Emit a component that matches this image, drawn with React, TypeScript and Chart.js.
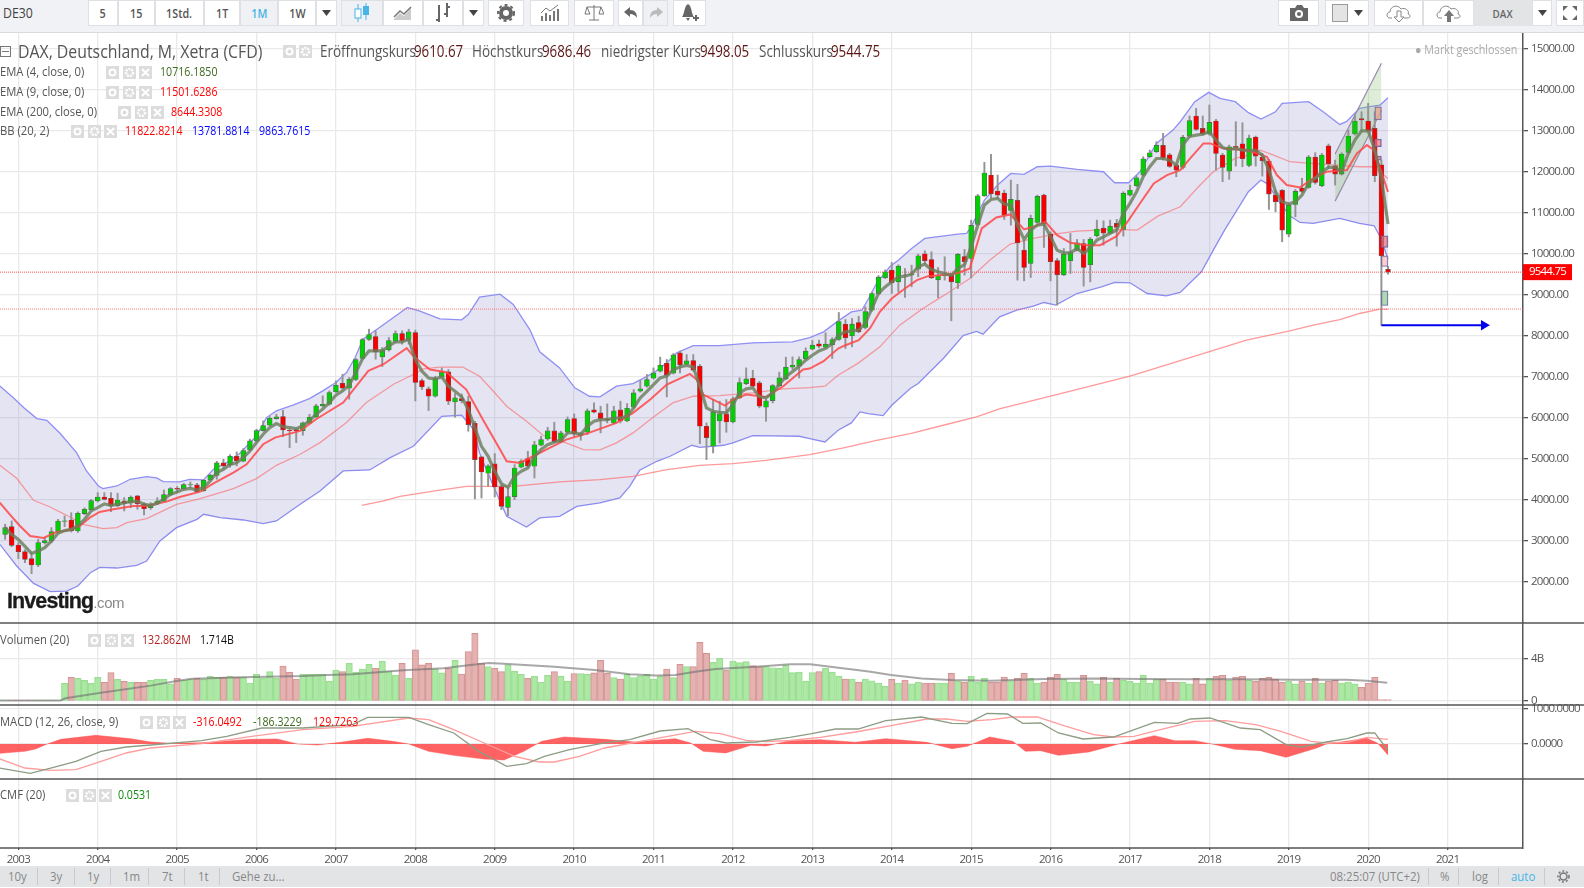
import React, { useEffect, useRef } from "react";
import { Chart, registerables } from "chart.js";
Chart.register(...registerables);

const FONT = '"Open Sans",sans-serif';

// Month index: 0 = Jan 2003, so 12 = Jan 2004 and so on. The first candle is month -2.
const firstMonth = -2;
const xMin = -2.77;
const xMax = 227.4;
const yearTicks = [0, 12, 24, 36, 48, 60, 72, 84, 96, 108, 120, 132, 144, 156, 168, 180, 192, 204, 216];
const yearLabels = ["2003", "2004", "2005", "2006", "2007", "2008", "2009", "2010", "2011", "2012", "2013", "2014", "2015", "2016", "2017", "2018", "2019", "2020", "2021"];
const priceTicks = [2000, 3000, 4000, 5000, 6000, 7000, 8000, 9000, 10000, 11000, 12000, 13000, 14000, 15000];

const opens = [
  3154, 3341, 2894, 2732, 2561, 2406, 2951, 2992, 3220, 3470,
  3504, 3236, 3660, 3756, 3967, 4065, 4032, 3854, 3967, 3919,
  4090, 3894, 3805, 3894, 3967, 4114, 4276, 4268, 4358, 4358,
  4220, 4480, 4593, 4894, 4854, 5057, 4935, 5211, 5431, 5683,
  5813, 5976, 6024, 5691, 5707, 5683, 5862, 6016, 6285, 6325,
  6626, 6837, 6715, 6927, 7439, 7902, 7976, 7480, 7650, 7854,
  8049, 7878, 8073, 6902, 6699, 6520, 6992, 7114, 6382, 6463,
  6390, 5862, 5041, 4642, 4870, 4317, 3813, 4073, 4789, 5000,
  4813, 5325, 5480, 5675, 5406, 5642, 5976, 5569, 5642, 6187,
  6114, 5959, 5870, 6187, 5919, 6252, 6642, 6764, 6959, 7130,
  7325, 7081, 7577, 7301, 7390, 7252, 5789, 5301, 5919, 6089,
  5894, 6480, 6829, 6959, 6846, 6252, 6415, 6780, 6943, 7228,
  7252, 7431, 7667, 7797, 7715, 7780, 7902, 8276, 7992, 8317,
  8195, 8618, 9016, 9407, 9593, 9309, 9480, 9480, 9618, 9992,
  9854, 9358, 9460, 9470, 9285, 9927, 9878, 10707, 11406, 11911,
  11520, 11472, 11049, 11293, 10081, 9756, 10756, 11423, 10480, 9829,
  9480, 9821, 10081, 10244, 9724, 10431, 10618, 10496, 10732, 10585,
  11423, 11650, 11910, 12358, 12480, 12634, 12407, 12154, 12098, 12862,
  13350, 13049, 12911, 13228, 12398, 12008, 12610, 12675, 12146, 12837,
  12350, 12252, 11423, 11537, 10472, 11195, 11593, 11610, 12350, 11650,
  12626, 12138, 11935, 12463, 12911, 13285, 13228, 13049, 12163, 9610.67,
];
const highs = [
  3400, 3480, 2950, 2780, 2724, 3032, 3070, 3317, 3520, 3600,
  3683, 3700, 3800, 4000, 4170, 4170, 4170, 4155, 4050, 4090,
  4105, 3927, 3927, 4049, 4236, 4293, 4317, 4398, 4431, 4398,
  4496, 4618, 4935, 4984, 5097, 5163, 5244, 5472, 5715, 5919,
  6024, 6081, 6179, 5732, 5732, 5894, 6081, 6325, 6528, 6650,
  6894, 7057, 6976, 7440, 7927, 8154, 8114, 7707, 7951, 8114,
  8114, 8154, 8130, 6943, 6748, 7008, 7211, 7171, 6585, 6577,
  6520, 5910, 5057, 4854, 5122, 4366, 4285, 4854, 4976, 5179,
  5423, 5545, 5764, 5886, 5667, 6016, 6089, 5642, 6211, 6358,
  6276, 6333, 6276, 6398, 6341, 6683, 6911, 7049, 7211, 7472,
  7415, 7561, 7618, 7537, 7537, 7293, 5870, 6439, 6398, 6439,
  6504, 6967, 7211, 7154, 6886, 6450, 6805, 7106, 7472, 7480,
  7480, 7700, 7878, 7886, 8065, 7950, 8561, 8390, 8415, 8470,
  8700, 9060, 9460, 9600, 9780, 9724, 9634, 9715, 9984, 10065,
  10040, 9658, 9920, 9512, 10000, 10098, 10813, 11439, 12220, 12415,
  11911, 11545, 11789, 11683, 10285, 10935, 11423, 11447, 10528, 9878,
  10122, 10488, 10341, 10341, 10390, 10813, 10797, 10813, 10829, 11504,
  11667, 11894, 12358, 12520, 12723, 12927, 12439, 12195, 12880, 13350,
  13537, 13350, 13618, 13268, 12439, 12642, 13211, 13187, 12886, 12862,
  12439, 12293, 11545, 11561, 11220, 11561, 11829, 12390, 12455, 12439,
  12667, 12276, 12455, 13008, 13374, 13455, 13658, 13455, 12276, 9686.46,
];
const lows = [
  3033, 2854, 2561, 2463, 2195, 2366, 2920, 2950, 3195, 3340,
  3211, 3200, 3630, 3740, 3943, 3990, 3707, 3830, 3724, 3805,
  3764, 3626, 3764, 3880, 3950, 4100, 4170, 4260, 4293, 4170,
  4200, 4470, 4496, 4756, 4789, 4821, 4920, 5190, 5400, 5670,
  5800, 5960, 5537, 5268, 5390, 5569, 5850, 6000, 6260, 6300,
  6610, 6690, 6447, 6900, 7420, 7880, 7423, 7244, 7620, 7830,
  7789, 7789, 6406, 6683, 6171, 6500, 6980, 6317, 6008, 6358,
  5667, 4016, 4041, 4325, 4065, 3756, 3610, 4000, 4770, 4772,
  4528, 5310, 5450, 5390, 5390, 5620, 5545, 5447, 5585, 6114,
  5626, 5870, 5850, 5870, 5900, 6230, 6620, 6740, 6940, 7110,
  6504, 7060, 7089, 7280, 7130, 5366, 4976, 5138, 5382, 5642,
  5870, 6460, 6800, 6740, 6236, 5911, 6358, 6760, 6920, 7170,
  6967, 7410, 7650, 7700, 7690, 7439, 7880, 7683, 7724, 8065,
  8160, 8590, 9000, 9390, 9024, 9065, 8927, 9187, 9431, 9756,
  9390, 8920, 9350, 8358, 9146, 9470, 9406, 10690, 11390, 11341,
  11341, 10829, 10691, 9350, 9333, 9415, 10730, 10146, 9333, 8740,
  9460, 9512, 10060, 9203, 9309, 10400, 10203, 10480, 10179, 10423,
  11400, 11630, 11890, 12340, 12460, 12276, 12100, 11870, 12060, 12840,
  13000, 12886, 12880, 12033, 11748, 11805, 12130, 12114, 12114, 12130,
  11886, 11073, 11016, 10285, 10407, 10894, 11480, 11590, 11691, 11626,
  12073, 11667, 11910, 12439, 12886, 12967, 12959, 11748, 8252, 9498.05,
];
const closes = [
  3317, 2886, 2732, 2545, 2406, 2951, 3000, 3220, 3480, 3484,
  3244, 3667, 3764, 3976, 4065, 4008, 3854, 3992, 3910, 4057,
  3902, 3780, 3894, 3967, 4122, 4268, 4252, 4366, 4366, 4195,
  4472, 4593, 4894, 4821, 5057, 4943, 5195, 5431, 5683, 5805,
  5984, 6016, 5699, 5683, 5675, 5870, 6008, 6285, 6325, 6610,
  6789, 6715, 6935, 7415, 7902, 8024, 7602, 7650, 7878, 8049,
  7862, 8089, 6854, 6748, 6520, 6951, 7106, 6398, 6480, 6415,
  5829, 4976, 4675, 4821, 4309, 3837, 4073, 4772, 4935, 4813,
  5333, 5463, 5675, 5415, 5626, 5951, 5593, 5610, 6163, 6130,
  5967, 5951, 6163, 5919, 6228, 6602, 6699, 6927, 7089, 7276,
  7033, 7528, 7285, 7382, 7154, 5789, 5512, 6130, 6089, 5894,
  6455, 6854, 6943, 6764, 6276, 6407, 6780, 6967, 7228, 7276,
  7415, 7618, 7764, 7740, 7789, 7902, 8341, 7943, 8276, 8089,
  8585, 9024, 9423, 9553, 9285, 9691, 9470, 9500, 9943, 9821,
  9407, 9455, 9475, 9309, 9976, 9797, 10683, 11406, 11959, 11455,
  11423, 10935, 11317, 10260, 9659, 10854, 11390, 10724, 9797, 9480,
  9976, 10024, 10260, 9659, 10350, 10594, 10496, 10659, 10634, 11471,
  11545, 11845, 12309, 12455, 12634, 12325, 12122, 12032, 12829, 13236,
  13024, 12911, 13195, 12439, 12098, 12602, 12585, 12309, 12813, 12374,
  12260, 11447, 11260, 10569, 11171, 11512, 11512, 12350, 11732, 12398,
  12187, 11935, 12423, 12862, 13228, 13252, 12984, 11894, 9943, 9544.75,
];
// Volume in billions, one per candle
const volumes = [
  0.05, 0.05, 0.05, 0.05, 0.05, 0.05, 0.05, 0.05, 0.05, 1.66,
  2.22, 2.12, 1.94, 1.66, 2.22, 1.75, 2.66, 2.03, 1.84, 1.75,
  1.75, 1.75, 1.94, 2.03, 2.03, 1.6, 2.12, 1.94, 2.03, 2.12,
  2.03, 2.31, 2.22, 2.22, 2.31, 2.22, 2.22, 1.69, 2.5, 2.12,
  2.75, 2.12, 3.28, 2.7, 2.06, 2.5, 2.5, 2.5, 2.5, 1.87,
  2.9, 2.75, 3.53, 2.7, 3, 3.44, 3.06, 3.75, 2.8, 2.44,
  3.53, 2.12, 4.8, 3.38, 3.53, 3, 2.63, 3.06, 3.81, 2.53,
  4.63, 6.34, 3.53, 3.22, 3.06, 2.75, 3.38, 2.81, 2.5, 2.12,
  2.34, 1.78, 2.4, 2.75, 2.34, 1.87, 2.56, 2.56, 2.5, 2.63,
  3.81, 2.6, 2.19, 2.06, 2.5, 2.19, 2.34, 2.5, 2.06, 2.34,
  3, 2.19, 3.44, 3.22, 3.22, 5.5, 4.47, 3.63, 4, 2.9,
  3.75, 3.6, 3.69, 3.31, 3.22, 3.22, 3.12, 3.06, 3.38, 2.66,
  2.7, 1.87, 2.66, 2.75, 3.06, 2.7, 2.34, 2.06, 2.06, 1.78,
  2.06, 1.9, 1.69, 1.38, 2.03, 1.69, 1.97, 1.6, 1.78, 1.69,
  1.69, 1.69, 1.69, 2.59, 1.87, 1.78, 2.31, 1.75, 2.12, 1.75,
  1.75, 2.25, 1.9, 2.12, 2.59, 2.12, 1.69, 1.78, 2.22, 2.5,
  2.03, 1.78, 1.78, 2.4, 1.87, 1.6, 2.22, 1.78, 2.12, 1.94,
  1.84, 1.69, 2.4, 1.69, 2.03, 2.03, 1.78, 1.78, 1.78, 1.6,
  2.12, 1.6, 2.12, 2.31, 2.4, 1.97, 2.25, 2.31, 1.97, 1.84,
  2.12, 2.22, 2.03, 1.78, 1.87, 1.6, 1.87, 1.69, 2.12, 1.69,
  1.87, 1.94, 1.69, 1.78, 1.6, 1.28, 1.69, 2.22, 0.13, 0.13,
];
// EMA(4), one per candle
const ema4 = [
  3320, 3150, 3030, 2860, 2690, 2750, 2830, 2990, 3180, 3245,
  3275, 3360, 3520, 3725, 3805, 3895, 3860, 3885, 3925, 3950,
  3965, 3885, 3860, 3910, 4010, 4130, 4185, 4250, 4275, 4235,
  4295, 4455, 4660, 4740, 4860, 4900, 5025, 5185, 5390, 5595,
  5755, 5855, 5780, 5755, 5730, 5800, 5920, 6080, 6205, 6365,
  6545, 6650, 6790, 7100, 7425, 7625, 7625, 7625, 7750, 7845,
  7845, 7910, 7415, 7130, 6965, 6945, 6990, 6765, 6640, 6505,
  6195, 5750, 5300, 5055, 4690, 4390, 4300, 4570, 4690, 4770,
  5055, 5220, 5340, 5400, 5445, 5625, 5640, 5585, 5790, 5910,
  5950, 5950, 5990, 5990, 6030, 6235, 6480, 6640, 6805, 6965,
  7010, 7170, 7235, 7270, 7235, 6765, 6235, 6155, 6130, 6115,
  6315, 6600, 6700, 6725, 6505, 6480, 6600, 6805, 7000, 7120,
  7250, 7400, 7520, 7625, 7685, 7805, 8010, 8090, 8115, 8130,
  8295, 8660, 9025, 9185, 9310, 9430, 9445, 9495, 9675, 9740,
  9610, 9555, 9510, 9465, 9635, 9730, 10165, 10690, 11180, 11315,
  11340, 11205, 11180, 10690, 10340, 10570, 10690, 10715, 10405, 10080,
  10015, 10015, 10120, 10000, 10145, 10325, 10405, 10490, 10570, 10975,
  11220, 11505, 11870, 12115, 12315, 12315, 12275, 12155, 12650, 12850,
  12885, 12910, 12965, 12765, 12585, 12535, 12560, 12520, 12505, 12520,
  12400, 12030, 11505, 11260, 11205, 11260, 11425, 11705, 11830, 11990,
  12100, 12100, 11990, 12440, 12765, 12990, 12990, 12520, 11830, 10716,
];

const bbUpperX = [-2.8, -0.8, 0.8, 2.8, 4.3, 6.3, 8.8, 10.3, 12.1, 12.8, 14.9, 16.9, 19.4, 20.9, 21.9, 24.4, 25.9, 28, 29.5, 31.5, 33.5, 36, 37.5, 39, 41.5, 44, 46, 48, 49.6, 50.9, 52.1, 57.7, 58.8, 60.7, 63.7, 67, 68, 69.7, 72.8, 74.8, 77.3, 78.8, 81.8, 84.1, 86.3, 87.9, 90.4, 92.9, 96, 98, 99.5, 102, 106, 111, 117, 119.6, 121.7, 123.7, 125.9, 127.5, 128.5, 129.7, 131.7, 133, 135, 137, 142, 143.3, 144, 146, 148, 150, 152, 154, 156, 160, 164, 165.7, 167.8, 169.5, 172, 174.5, 175.6, 177.8, 179.9, 181.6, 183.9, 185.9, 187.8, 190, 191, 195, 197.2, 199.7, 200.7, 202.7, 204.2, 205.8, 207];
const bbUpperY = [6772, 6488, 6244, 5976, 5935, 5618, 5146, 4699, 4333, 4268, 4333, 4496, 4561, 4528, 4439, 4431, 4496, 4480, 4740, 4902, 5130, 5553, 6000, 6163, 6301, 6463, 6650, 6854, 7098, 7463, 7910, 8553, 8683, 8593, 8406, 8382, 8512, 8935, 9008, 8756, 8146, 7602, 7211, 6724, 6520, 6504, 6764, 6829, 7089, 7333, 7577, 7756, 7756, 7821, 7845, 7951, 8089, 8333, 8577, 8618, 8902, 9268, 9675, 9837, 10122, 10366, 10472, 10488, 10650, 11301, 11667, 11951, 11927, 12114, 12130, 12049, 11992, 11724, 11724, 11992, 12683, 13008, 13211, 13699, 13927, 13780, 13699, 13431, 13276, 13455, 13659, 13699, 13455, 13146, 13211, 13537, 13577, 13618, 13797];
const bbLowerX = [-2.8, -0.25, 2.3, 4.8, 7.3, 9, 10.9, 12.3, 14.9, 17.9, 19.4, 21.4, 23.9, 27, 28, 30.5, 34, 37, 39, 42.6, 45.6, 49.1, 53.1, 56.2, 59.7, 64, 67, 68.8, 69.7, 71.8, 73.8, 76.8, 78.8, 81.8, 84.4, 87.9, 90.9, 92.4, 93.9, 96.5, 98.5, 101.8, 103, 106.6, 108, 111, 118, 119.6, 121.9, 123.9, 125.9, 127.2, 128.4, 130.7, 132, 134.8, 136, 139.8, 142.8, 144.8, 145.8, 148.3, 150.9, 153.4, 155, 156.8, 160, 163.7, 165.7, 168, 170.6, 173.5, 175.6, 178.8, 180.6, 182.3, 185.9, 187.8, 188.8, 190.7, 192.2, 193.7, 195.7, 199.7, 202.7, 204.9, 205.8, 207];
const bbLowerY = [2911, 2382, 1959, 1756, 1772, 1894, 2220, 2350, 2333, 2398, 2504, 2992, 3317, 3520, 3642, 3561, 3504, 3415, 3480, 3886, 4211, 4699, 4723, 5024, 5301, 6032, 6057, 5707, 5138, 4325, 3593, 3333, 3553, 3593, 3837, 3919, 4041, 4325, 4715, 4935, 5057, 5325, 5276, 5325, 5382, 5561, 5545, 5488, 5406, 5691, 5870, 6138, 6098, 6049, 6301, 6707, 6829, 7439, 8000, 8098, 8033, 8455, 8618, 8715, 8805, 8740, 9024, 9187, 9293, 9285, 9024, 8967, 9049, 9553, 10081, 10569, 11504, 11789, 11691, 11219, 10911, 10756, 10732, 10854, 10732, 10675, 10406, 9864];
const bbMidX = [-2.8, -0.25, 2.3, 4.8, 7.3, 9.8, 12.8, 14.9, 16.4, 19.4, 23.9, 27.5, 32.5, 36, 39, 42.6, 45.6, 49.6, 52.6, 56.7, 59.7, 61.2, 63.7, 67.2, 69.7, 71.8, 73.8, 76.8, 79.3, 82.8, 85.4, 87.9, 90.4, 92.9, 96, 98.9, 102, 106, 111, 115.6, 119.6, 121.9, 123.9, 127, 130.2, 133.2, 136.7, 139.7, 143.8, 146.8, 149.9, 153.4, 157.4, 160, 165.6, 169.1, 172.2, 175.6, 178.6, 180.6, 183.9, 185.9, 187.7, 189.7, 192.2, 194.8, 202.7, 204.7, 205.8, 207];
const bbMidY = [4837, 4520, 3984, 3821, 3618, 3398, 3293, 3317, 3439, 3537, 3886, 4024, 4268, 4512, 4837, 5106, 5390, 5878, 6366, 6813, 7049, 7187, 7228, 7228, 7008, 6642, 6276, 5911, 5569, 5382, 5220, 5211, 5382, 5626, 6016, 6358, 6520, 6537, 6602, 6699, 6732, 6764, 7032, 7333, 7724, 8252, 8659, 8959, 9390, 9837, 10228, 10366, 10488, 10545, 10585, 10569, 10911, 11138, 11667, 11992, 12317, 12398, 12520, 12398, 12236, 12203, 12114, 12114, 11992, 11822];
const ema9X = [-2.8, -1.3, 0.25, 1.8, 3.8, 5.8, 7.8, 9.3, 10.8, 12.3, 14.4, 17.4, 19.4, 22.4, 24.4, 27.5, 29.5, 32.5, 34.5, 37, 38.8, 42.6, 45, 49.1, 51.1, 52.9, 55.2, 58.7, 59.7, 62.2, 64.7, 67.7, 70.2, 72.8, 73.8, 75.8, 77.8, 80.3, 82.8, 85.9, 90.4, 92.9, 95.5, 98, 101.5, 102.5, 103.5, 106.8, 108, 110, 113, 115.6, 118.6, 119.6, 121.7, 123.9, 125, 127, 128.7, 130.2, 132, 134, 135.8, 137.5, 141.8, 143.8, 145.6, 147.8, 149.9, 152, 153.4, 155.2, 157, 159, 161.4, 163.5, 166, 167.8, 169.5, 171.6, 173.6, 175.6, 177.1, 179.1, 180.1, 182.1, 185.7, 188.7, 190.2, 191.7, 193.7, 195.7, 197.7, 200.8, 202.3, 203.8, 204.9, 205.9, 207];
const ema9Y = [3927, 3642, 3358, 3114, 3065, 3211, 3260, 3358, 3561, 3699, 3764, 3846, 3846, 3951, 4065, 4195, 4398, 4659, 4862, 5350, 5512, 5675, 5959, 6366, 6772, 7138, 7301, 7691, 7496, 7171, 7106, 6683, 5951, 5220, 4935, 4894, 5057, 5260, 5463, 5610, 5870, 6114, 6439, 6805, 7065, 6927, 6561, 6293, 6439, 6561, 6504, 6764, 7171, 7195, 7374, 7683, 7764, 7886, 8171, 8577, 8902, 9146, 9350, 9447, 9512, 9634, 10610, 10878, 10951, 10585, 10650, 10772, 10447, 10260, 10203, 10203, 10423, 10813, 11219, 11707, 11911, 12032, 12317, 12683, 12683, 12561, 12520, 12358, 11911, 11667, 11610, 11829, 11992, 12032, 12439, 12642, 12520, 12032, 11501];
const ema200X = [51.9, 55.2, 57.7, 63.2, 67.7, 74.8, 81.8, 87.9, 92.9, 98, 103, 108, 113, 119.6, 124.7, 129.7, 134.8, 139.8, 144.8, 148.4, 156, 168, 180.5, 185.6, 192, 195.7, 199.7, 202.7, 205.8, 207];
const ema200Y = [3862, 3967, 4081, 4220, 4325, 4325, 4431, 4488, 4569, 4732, 4837, 4878, 4959, 5098, 5260, 5447, 5610, 5813, 6016, 6220, 6520, 7012, 7630, 7886, 8106, 8252, 8390, 8537, 8642, 8644];

const volMaX = [-2.8, 6.4, 7.1, 12.5, 20, 23.9, 26.2, 33.8, 43, 46.7, 50.5, 58.2, 64.2, 68, 71.1, 73.4, 81, 87.1, 92.4, 96.3, 99.3, 102.3, 105.4, 111.5, 116.6, 119.7, 122.7, 125.8, 128.8, 131.9, 136.5, 141, 147, 155, 162.5, 170, 177.5, 185, 193, 200.6, 203.8, 206.9];
const volMaY = [0.05, 0.05, 0.25, 0.78, 1.44, 1.87, 2.09, 2.22, 2.34, 2.44, 2.5, 2.88, 3.06, 3.34, 3.56, 3.5, 3.22, 2.9, 2.5, 2.38, 2.44, 2.75, 3, 3.22, 3.44, 3.44, 3.22, 2.97, 2.75, 2.44, 2.12, 1.97, 1.9, 2.06, 2.12, 2.06, 2.03, 2.03, 2, 2, 1.9, 1.71];

const macdHistX = [-2.8, 1, 2.6, 4.1, 6.4, 11.7, 17, 20, 23.1, 27.7, 35.3, 39.1, 42.2, 45.2, 49, 52.8, 56.6, 59, 62, 65.8, 70.4, 73.4, 76.4, 79.1, 82.5, 88.6, 93.2, 99.3, 101.6, 103.5, 106.9, 110.7, 113, 116.6, 121.2, 126.5, 131.1, 137.3, 141.1, 143.4, 146.8, 150.3, 152.2, 154.5, 157.2, 161.8, 166.3, 171.7, 174.8, 177.8, 180.9, 183.9, 187.7, 191.6, 196.2, 197.7, 203.8, 205.4, 207];
const macdHistY = [-267, -209, -143, -19, 133, 248, 152, 57, 19, 38, 133, 143, 0, -29, 57, 162, 76, 0, -209, -324, -428, -457, -209, 76, 200, 133, 57, 152, 29, -209, -257, -38, -57, 95, 124, 48, 152, 48, -133, -67, 200, 76, -209, -190, -324, -228, 0, 238, 95, 95, -19, -152, -190, -381, -114, 0, 162, 29, -316];
const macdLineX = [-2.8, 1.8, 4.9, 8.7, 12.5, 16.3, 20, 27.7, 31.5, 36.8, 43, 50.5, 52.8, 59, 62, 65.8, 69.6, 73.8, 76.8, 79.5, 83.3, 88.6, 92.4, 97, 101.2, 104.6, 107, 111.5, 116.6, 119.7, 123.5, 126.9, 131.1, 136.5, 141.1, 143.4, 146.4, 149.5, 151.8, 154.5, 157.2, 160.9, 165.5, 171.7, 175.2, 177.1, 180.1, 184.7, 187.7, 191.6, 193.9, 197.7, 200.8, 203.8, 205, 207];
const macdLineY = [-686, -838, -686, -495, -210, -86, -29, 95, 219, 457, 457, 552, 762, 762, 552, 314, -210, -638, -562, -352, -162, 29, 124, 371, 438, 124, 29, 57, 190, 286, 428, 428, 667, 771, 590, 581, 876, 857, 590, 600, 314, 143, 200, 619, 590, 714, 743, 457, 410, -19, -86, 57, 152, 314, 320, -186];
const macdSignalX = [-2.8, 1, 4.9, 8.7, 12.5, 16.3, 20, 27.7, 35.3, 43, 50.5, 59, 62, 65.8, 70.4, 75, 78.7, 81, 84.8, 88.6, 96.3, 102.3, 106.1, 110, 113, 116.6, 121.2, 126.5, 131.9, 137.3, 140.3, 143.4, 147.1, 150.3, 154, 158, 162.5, 165.5, 168.6, 173.2, 177.8, 182.4, 187, 190.8, 195.4, 197.7, 200.8, 203.8, 207];
const macdSignalY = [-428, -686, -752, -733, -495, -257, -114, 10, 219, 410, 505, 743, 695, 410, 29, -352, -514, -514, -352, -114, 152, 362, 295, 105, 67, 100, 190, 343, 524, 714, 714, 648, 695, 771, 771, 524, 267, 200, 219, 438, 648, 667, 552, 362, 76, 29, 48, 190, 130];

const lastClose = 9544.75;
const ema200Last = 8644.33;
const channelTopX = [199, 206];
const channelTopY = [12423, 14634];
const channelBottomY = [11276, 13487];
const arrowX = [206, 221.5];
const arrowY = [8252, 8252];
const zoneX = [205.5, 205.5, 205.5, 206.5, 206.5, 206.5];
const zoneLow = [13252, 12602, 12276, 10146, 9683, 8732];
const zoneHigh = [13577, 12789, 12374, 10431, 9943, 9089];
const zoneFills = ["rgba(235,165,140,0.75)", "rgba(255,110,120,0.6)", "rgba(255,110,120,0.6)", "rgba(235,110,115,0.65)", "rgba(250,195,195,0.8)", "rgba(165,210,165,0.85)"];

const pts = (xs: number[], ys: number[]) => xs.map((x, i) => ({ x, y: ys[i] }));
const monthOf = (i: number) => i + firstMonth;
const isUp = (i: number) => closes[i] >= opens[i];

const tickFont = { family: FONT, size: 11.5 };

const overlayPlugin = {
  id: "panelLines",
  beforeDraw(chart: any) {
    chart.ctx.letterSpacing = "-0.75px";
  },
  afterDraw(chart: any) {
    const { ctx, scales, width } = chart;
    ctx.save();
    ctx.strokeStyle = "#555";
    ctx.lineWidth = 1.5;
    for (const id of ["yPrice", "yVol", "yMacd", "yCmf"]) {
      const yy = scales[id].bottom;
      ctx.beginPath();
      ctx.moveTo(0, yy);
      ctx.lineTo(id === "yCmf" ? scales.yCmf.left : width, yy);
      ctx.stroke();
    }
    const py = scales.yPrice.getPixelForValue(lastClose);
    const left = scales.yPrice.left;
    ctx.fillStyle = "#ff0000";
    ctx.fillRect(left, py - 8, 49, 16);
    ctx.fillStyle = "#fff";
    ctx.font = `11.5px ${FONT}`;
    ctx.textBaseline = "middle";
    ctx.textAlign = "center";
    ctx.fillText(lastClose.toFixed(2), left + 24.5, py);
    ctx.restore();
  },
};

function GreyBox({ x, y, kind }: { x: number; y: number; kind: number }) {
  return (
    <svg style={{ position: "absolute", left: x, top: y }} width={13} height={13}>
      <rect width={13} height={13} fill="#dcdcdc" />
      {kind === 0 && <circle cx={6.5} cy={6.5} r={3} fill="none" stroke="#fff" strokeWidth={2} />}
      {kind === 1 && <circle cx={6.5} cy={6.5} r={3.5} fill="none" stroke="#fff" strokeWidth={2.5} strokeDasharray="2 1" />}
      {kind === 2 && <path d="M3 3L10 10M10 3L3 10" stroke="#fff" strokeWidth={2} />}
    </svg>
  );
}

function T({ x, y, size = 13, color = "#555", sx = 0.88, children }: any) {
  return (
    <span style={{ position: "absolute", left: x, top: y, fontSize: size, lineHeight: 1, color, whiteSpace: "nowrap", fontFamily: FONT, transform: `scaleX(${sx})`, transformOrigin: "0 0" }}>
      {children}
    </span>
  );
}

function Btn({ x, w, active, children }: any) {
  return (
    <div style={{ position: "absolute", left: x, top: 0, width: w, height: 26, boxSizing: "border-box", background: active ? "#f0f1f4" : "#fff", border: "1px solid #dfe0e3", display: "flex", alignItems: "center", justifyContent: "center", fontFamily: FONT, fontSize: 12.5, fontWeight: 600, color: "#555" }}>
      {typeof children === "string" ? <span style={{ transform: "scaleX(0.86)" }}>{children}</span> : children}
    </div>
  );
}
const Caret = () => <svg width={9} height={6}><path d="M0 0H9L4.5 6Z" fill="#444" /></svg>;

function LegendRow({ y, label, icons, values }: any) {
  return (
    <>
      <T x={0} y={y - 6.5} size={12.5} color="#555" sx={0.9}>{label}</T>
      {[0, 1, 2].map((k) => <GreyBox key={k} x={icons + k * 16.5} y={y - 6.5} kind={k} />)}
      {values.map((v: any) => <T key={v[0]} x={v[1]} y={y - 6.5} size={12.5} color={v[2]} sx={0.85}>{v[0]}</T>)}
    </>
  );
}

export default function App() {
  const ref = useRef<HTMLCanvasElement>(null);
  useEffect(() => {
    const wickData = opens.map((_, i) => ({ x: monthOf(i), y: [lows[i], highs[i]] }));
    const bodyData = opens.map((o, i) => ({ x: monthOf(i), y: [Math.min(o, closes[i]), Math.max(o, closes[i])] }));
    const volData = volumes.map((v, i) => ({ x: monthOf(i), y: v }));
    const line = (label: string, xs: number[], ys: number[], color: string, width: number, order: number, yAxisID = "yPrice", extra: any = {}) => ({
      type: "line", label, data: pts(xs, ys), borderColor: color, borderWidth: width, pointRadius: 0, tension: 0, order, yAxisID, xAxisID: "x", fill: false, ...extra,
    });
    const months = opens.map((_, i) => monthOf(i));
    const chart = new Chart(ref.current as any, {
      type: "line",
      plugins: [overlayPlugin],
      data: {
        datasets: [
          line("BB oben", bbUpperX, bbUpperY, "#8f8ff5", 1.3, 90, "yPrice", { fill: "+1", backgroundColor: "rgba(122,122,190,0.2)" }),
          line("BB unten", bbLowerX, bbLowerY, "#8f8ff5", 1.3, 91),
          line("EMA 200", ema200X, ema200Y, "rgba(255,110,110,0.7)", 1.3, 80),
          line("BB Mitte", bbMidX, bbMidY, "rgba(255,90,90,0.55)", 1.3, 70),
          line("Kurs", [xMin, xMax], [lastClose, lastClose], "rgba(255,40,40,0.8)", 1, 60, "yPrice", { borderDash: [1, 1] }),
          line("EMA 200 Linie", [xMin, xMax], [ema200Last, ema200Last], "rgba(255,70,70,0.7)", 1, 60, "yPrice", { borderDash: [1, 1] }),
          line("Kanal oben", channelTopX, channelTopY, "#9c86ad", 1.2, 56, "yPrice", { fill: "+1", backgroundColor: "rgba(130,190,110,0.27)" }),
          line("Kanal unten", channelTopX, channelBottomY, "#9c86ad", 1.2, 56),
          {
            type: "bar", label: "Docht", data: wickData, barThickness: 1.3, backgroundColor: "#949494", grouped: false, order: 50, yAxisID: "yPrice", xAxisID: "x",
          },
          {
            type: "bar", label: "Kerze", data: bodyData, barThickness: 4.8, grouped: false, order: 49, yAxisID: "yPrice", xAxisID: "x",
            backgroundColor: opens.map((_, i) => (isUp(i) ? "#00d000" : "#f80000")), borderColor: "#5c5c5c", borderWidth: 0.6, borderSkipped: false,
          },
          {
            type: "bar", label: "Zonen", data: zoneX.map((x, i) => ({ x, y: [zoneLow[i], zoneHigh[i]] })), barThickness: 6.6, grouped: false, order: 30, yAxisID: "yPrice", xAxisID: "x",
            backgroundColor: zoneFills, borderColor: "#6a6aa8", borderWidth: 1, borderSkipped: false,
          },
          line("EMA 9", ema9X, ema9Y, "rgba(255,70,70,0.85)", 2, 12),
          line("EMA 4", months, ema4, "rgba(105,125,90,0.8)", 3.2, 10),
          line("Pfeil", arrowX, arrowY, "#0000ee", 2, 5, "yPrice", { pointRadius: [0, 4], pointStyle: "triangle", pointRotation: 90, pointBackgroundColor: "#0000ee", pointBorderColor: "#0000ee" }),
          {
            type: "bar", label: "Volumen", data: volData, barThickness: 6.4, grouped: false, order: 20, yAxisID: "yVol", xAxisID: "x",
            backgroundColor: opens.map((_, i) => (isUp(i) ? "rgba(160,228,150,0.85)" : "rgba(226,170,170,0.9)")),
            borderColor: opens.map((_, i) => (isUp(i) ? "#9bdc92" : "#d29090")), borderWidth: 0.8, borderSkipped: false,
          },
          line("Volumen MA", volMaX, volMaY, "rgba(110,110,110,0.6)", 2, 10, "yVol"),
          line("MACD Histogramm", macdHistX, macdHistY, "rgba(255,70,70,0.85)", 0.5, 20, "yMacd", { fill: "origin", backgroundColor: "rgba(255,70,70,0.85)" }),
          line("MACD", macdLineX, macdLineY, "#8d9c84", 1.3, 10, "yMacd"),
          line("Signal", macdSignalX, macdSignalY, "#ff9c9c", 1.3, 11, "yMacd"),
        ] as any,
      },
      options: {
        animation: false,
        responsive: false,
        devicePixelRatio: 1,
        layout: { autoPadding: false, padding: { top: 32, bottom: 22, left: 0, right: 0 } },
        plugins: { legend: { display: false }, tooltip: { enabled: false } },
        scales: {
          x: {
            type: "linear", min: xMin, max: xMax, offset: false,
            afterBuildTicks: (s: any) => { s.ticks = yearTicks.map((value) => ({ value })); },
            afterFit: (s: any) => { s.height = 18; s.paddingLeft = 0; s.paddingRight = 0; },
            ticks: { autoSkip: false, maxRotation: 0, color: "#555", font: tickFont, padding: 3, callback: (_: any, i: number) => yearLabels[i] },
            grid: { color: "#e9e9e9", lineWidth: 1.3, tickLength: 2, tickColor: "#555", offset: false },
            border: { display: false },
          },
          yPrice: {
            type: "linear", position: "right", stack: "panels", stackWeight: 591, min: 993, max: 15398,
            afterBuildTicks: (s: any) => { s.ticks = priceTicks.map((value) => ({ value })); },
            afterFit: (s: any) => { s.width = 61; },
            ticks: { color: "#555", font: tickFont, padding: 3, callback: (v: number) => v.toFixed(2) },
            grid: { color: "#e9e9e9", lineWidth: 1.3, tickLength: 5, tickColor: "#555" },
            border: { color: "#555", width: 1.5 },
          },
          yVol: {
            type: "linear", position: "right", stack: "panels", stackWeight: 82, min: -0.375, max: 7.31,
            afterBuildTicks: (s: any) => { s.ticks = [{ value: 0 }, { value: 4 }]; },
            afterFit: (s: any) => { s.width = 61; },
            ticks: { color: "#555", font: tickFont, padding: 3, callback: (v: number) => (v === 0 ? "0" : `${v}B`) },
            grid: { color: "#e9e9e9", lineWidth: 1.3, tickLength: 5, tickColor: "#555" },
            border: { color: "#555", width: 1.5 },
          },
          yMacd: {
            type: "linear", position: "right", stack: "panels", stackWeight: 74, min: -1000, max: 1114,
            afterBuildTicks: (s: any) => { s.ticks = [{ value: 0 }, { value: 1000 }]; },
            afterFit: (s: any) => { s.width = 61; },
            ticks: { color: "#555", font: tickFont, padding: 3, callback: (v: number) => v.toFixed(4) },
            grid: { color: "#e9e9e9", lineWidth: 1.3, tickLength: 5, tickColor: "#555" },
            border: { color: "#555", width: 1.5 },
          },
          yCmf: {
            type: "linear", position: "right", stack: "panels", stackWeight: 69, min: -1, max: 1,
            afterBuildTicks: (s: any) => { s.ticks = []; },
            afterFit: (s: any) => { s.width = 61; },
            ticks: { display: false },
            grid: { display: false },
            border: { color: "#555", width: 1.5 },
          },
        },
      } as any,
    });
    return () => chart.destroy();
  }, []);

  const green = "#3d6b1e";
  return (
    <div style={{ position: "fixed", left: 0, top: 0, width: 1584, height: 888, overflow: "hidden", background: "#fff" }}>
      <canvas ref={ref} width={1584} height={888} style={{ position: "absolute", left: 0, top: 0, width: 1584, height: 888, filter: "blur(0.35px)" }} />

      {/* toolbar */}
      <div style={{ position: "absolute", left: 0, top: 0, width: 1584, height: 33, background: "#f1f2f5", borderBottom: "1.5px solid #d9dadd", boxSizing: "border-box" }} />
      <T x={3} y={6} size={14} color="#444">DE30</T>
      <Btn x={88} w={30}>5</Btn>
      <Btn x={118} w={37}>15</Btn>
      <Btn x={155} w={49}>1Std.</Btn>
      <Btn x={204} w={36}>1T</Btn>
      <Btn x={240} w={38} active><span style={{ color: "#45b4e6", transform: "scaleX(0.86)" }}>1M</span></Btn>
      <Btn x={278} w={38}>1W</Btn>
      <Btn x={316} w={21}><Caret /></Btn>
      <Btn x={341} w={42} active>
        <svg width={18} height={22}><path d="M5 2V20M13 1V18" stroke="#45b4e6" /><rect x={2} y={7} width={6} height={9} fill="#fff" stroke="#45b4e6" /><rect x={10} y={4} width={6} height={9} fill="#45b4e6" /></svg>
      </Btn>
      <Btn x={383} w={40}>
        <svg width={20} height={16}><path d="M1 14L7 8L11 11L18 3V15H1Z" fill="#ccc" /><path d="M1 12L7 6L11 9L18 2" stroke="#777" fill="none" strokeWidth={1.5} /></svg>
      </Btn>
      <Btn x={423} w={40}>
        <svg width={16} height={22}><path d="M4 3V20M1 18H4M12 1V15M12 5H15M9 12H12" stroke="#666" strokeWidth={2} fill="none" /></svg>
      </Btn>
      <Btn x={463} w={21}><Caret /></Btn>
      <Btn x={488} w={36}>
        <svg width={18} height={18}><circle cx={9} cy={9} r={5} fill="none" stroke="#666" strokeWidth={4} /><circle cx={9} cy={9} r={8} fill="none" stroke="#666" strokeWidth={2} strokeDasharray="3 3" /></svg>
      </Btn>
      <Btn x={530} w={39}>
        <svg width={20} height={18}><path d="M2 17V12M6 17V9M10 17V11M14 17V7M18 17V5" stroke="#777" strokeWidth={2} /><path d="M1 9L6 4L10 7L18 1" stroke="#777" fill="none" /></svg>
      </Btn>
      <Btn x={574} w={40}>
        <svg width={20} height={18}><path d="M10 1V16M5 16H15M3 3H17M3 3L1 10H6ZM17 3L15 10H20Z" stroke="#777" fill="none" /></svg>
      </Btn>
      <Btn x={618} w={25}>
        <svg width={14} height={12}><path d="M6 0V3C11 3 13 6 13 11C11 8 9 7 6 7V10L0 5Z" fill="#666" /></svg>
      </Btn>
      <Btn x={643} w={25} active>
        <svg width={14} height={12}><path d="M8 0V3C3 3 1 6 1 11C3 8 5 7 8 7V10L14 5Z" fill="#bbb" /></svg>
      </Btn>
      <Btn x={673} w={33}>
        <svg width={20} height={20}><path d="M8 1C4 3 5 10 2 14H14C11 10 12 3 8 1ZM6 15H10L8 18Z" fill="#666" /><path d="M13 15H19M16 12V18" stroke="#666" strokeWidth={2} /></svg>
      </Btn>
      <Btn x={1278} w={41}>
        <svg width={20} height={17}><path d="M1 3H6L8 0H13L15 3H19V16H1Z" fill="#666" /><circle cx={10} cy={9} r={4} fill="#fff" /><circle cx={10} cy={9} r={2} fill="#666" /></svg>
      </Btn>
      <Btn x={1325} w={44}>
        <span style={{ display: "flex", alignItems: "center", gap: 6 }}><svg width={16} height={18}><rect x={0.5} y={0.5} width={15} height={17} fill="#e4e4e4" stroke="#999" /></svg><Caret /></span>
      </Btn>
      <Btn x={1374} w={49}>
        <svg width={26} height={20}><path d="M6 15H4C0 15 0 9 4 9C4 3 12 1 15 6C19 4 24 8 22 11C25 12 25 15 21 15H18" stroke="#888" fill="none" /><path d="M11 8H15V14H18L13 19L8 14H11Z" fill="#fff" stroke="#888" /></svg>
      </Btn>
      <Btn x={1423} w={51}>
        <svg width={26} height={20}><path d="M6 15H4C0 15 0 9 4 9C4 3 12 1 15 6C19 4 24 8 22 11C25 12 25 15 21 15H18" stroke="#888" fill="none" /><path d="M11 19H15V13H18L13 7L8 13H11Z" fill="#777" /></svg>
      </Btn>
      <div style={{ position: "absolute", left: 1474, top: 0, width: 58, height: 26, background: "#e3e4e6", display: "flex", alignItems: "center", justifyContent: "center", color: "#666", fontFamily: FONT, fontSize: 11.5, fontWeight: 600 }}><span style={{ transform: "scaleX(0.86)" }}>DAX</span></div>
      <Btn x={1532} w={20}><Caret /></Btn>
      <Btn x={1556} w={28}>
        <svg width={16} height={16}><path d="M1 1H6L1 6ZM15 1H10L15 6ZM1 15H6L1 10ZM15 15H10L15 10Z" fill="#666" /></svg>
      </Btn>

      {/* main legend */}
      <svg style={{ position: "absolute", left: 0, top: 46 }} width={12} height={12}><rect x={0.5} y={0.5} width={10} height={10} fill="none" stroke="#777" /><path d="M2 5.5H9" stroke="#777" /></svg>
      <T x={18} y={42.5} size={17.5} color="#555" sx={0.905}>DAX, Deutschland, M, Xetra (CFD)</T>
      <GreyBox x={283} y={45} kind={0} />
      <GreyBox x={299} y={45} kind={1} />
      <T x={320} y={44} size={15.5} color="#555" sx={0.87}>Eröffnungskurs</T>
      <T x={414} y={44} size={15.5} color="#5a1414" sx={0.86}>9610.67</T>
      <T x={472} y={44} size={15.5} color="#555" sx={0.87}>Höchstkurs</T>
      <T x={542} y={44} size={15.5} color="#5a1414" sx={0.86}>9686.46</T>
      <T x={601} y={44} size={15.5} color="#555" sx={0.87}>niedrigster Kurs</T>
      <T x={700} y={44} size={15.5} color="#5a1414" sx={0.86}>9498.05</T>
      <T x={759} y={44} size={15.5} color="#555" sx={0.87}>Schlusskurs</T>
      <T x={831} y={44} size={15.5} color="#5a1414" sx={0.86}>9544.75</T>
      <T x={1415} y={44} size={12.5} color="#aaa" sx={0.86}>● Markt geschlossen</T>

      <LegendRow y={72} label="EMA (4, close, 0)" icons={106} values={[["10716.1850", 160, green]]} />
      <LegendRow y={92} label="EMA (9, close, 0)" icons={106} values={[["11501.6286", 160, "#f00"]]} />
      <LegendRow y={112} label="EMA (200, close, 0)" icons={118} values={[["8644.3308", 171, "#f00"]]} />
      <LegendRow y={131} label="BB (20, 2)" icons={71} values={[["11822.8214", 124.5, "#f00"], ["13781.8814", 192, "#00f"], ["9863.7615", 259, "#00f"]]} />
      <LegendRow y={640} label="Volumen (20)" icons={88} values={[["132.862M", 141.5, "#b02020"], ["1.714B", 199.5, "#111"]]} />
      <LegendRow y={722} label="MACD (12, 26, close, 9)" icons={140} values={[["-316.0492", 193, "#f00"], ["-186.3229", 253, green], ["129.7263", 313, "#f00"]]} />
      <LegendRow y={795} label="CMF (20)" icons={66} values={[["0.0531", 118, "#128a12"]]} />

      {/* logo */}
      <span style={{ position: "absolute", left: 7, top: 591, fontFamily: '"Liberation Sans",sans-serif', fontSize: 21.5, fontWeight: 700, color: "#1b1b1b", letterSpacing: -0.9, lineHeight: 1, whiteSpace: "nowrap", WebkitTextStroke: "0.3px #1b1b1b" }}>
        Investing<span style={{ color: "#8a8a8a", fontWeight: 400, fontSize: 15, letterSpacing: -0.4, WebkitTextStroke: "0" }}>.com</span>
      </span>

      {/* bottom bar */}
      <div style={{ position: "absolute", left: 0, top: 866, width: 1584, height: 21, background: "#e3e4e6" }} />
      {[37, 74, 110, 148, 184, 219, 1428, 1458, 1498, 1544].map((x) => (
        <div key={x} style={{ position: "absolute", left: x, top: 868, width: 1, height: 17, background: "#c9cacd" }} />
      ))}
      <T x={8} y={870} size={13} color="#888">10y</T>
      <T x={50} y={870} size={13} color="#888">3y</T>
      <T x={87} y={870} size={13} color="#888">1y</T>
      <T x={123} y={870} size={13} color="#888">1m</T>
      <T x={162} y={870} size={13} color="#888">7t</T>
      <T x={198} y={870} size={13} color="#888">1t</T>
      <T x={232} y={870} size={13} color="#888">Gehe zu...</T>
      <T x={1330} y={870} size={13} color="#888">08:25:07 (UTC+2)</T>
      <T x={1440} y={870} size={13} color="#888">%</T>
      <T x={1472} y={870} size={13} color="#888">log</T>
      <T x={1511} y={870} size={13} color="#45b4e6">auto</T>
      <svg style={{ position: "absolute", left: 1557, top: 870 }} width={13} height={13}><circle cx={6.5} cy={6.5} r={3.5} fill="none" stroke="#777" strokeWidth={1.5} /><circle cx={6.5} cy={6.5} r={5.5} fill="none" stroke="#777" strokeWidth={1.5} strokeDasharray="2 2" /></svg>
    </div>
  );
}
